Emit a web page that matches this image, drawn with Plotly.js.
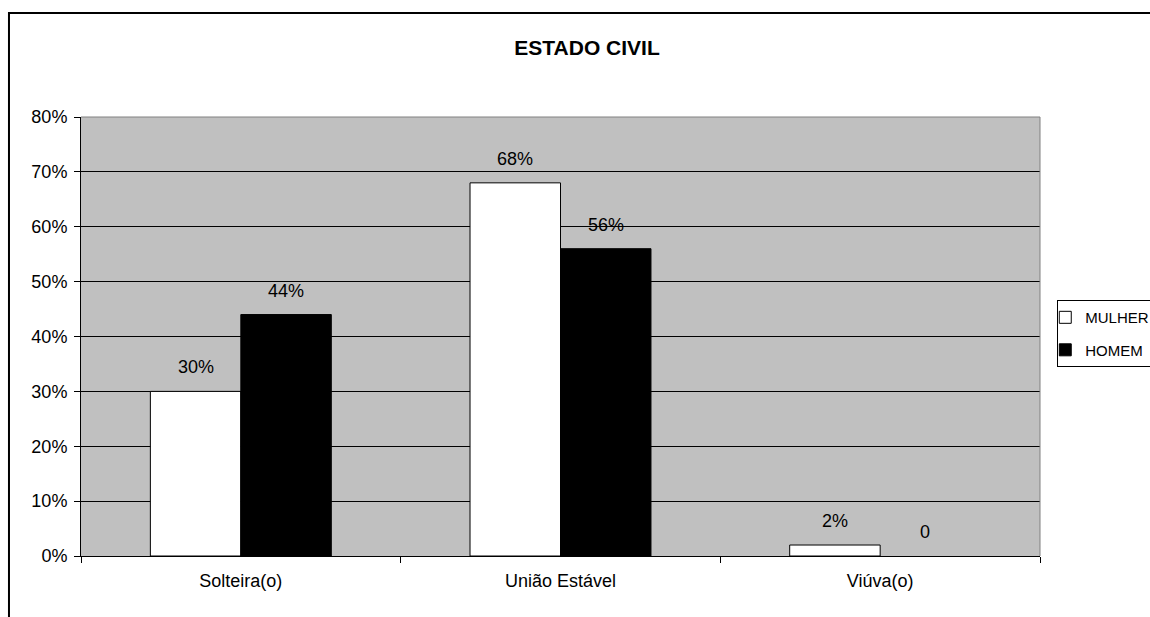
<!DOCTYPE html>
<html>
<head>
<meta charset="utf-8">
<script src="https://cdn.plot.ly/plotly-3.0.1.min.js"></script>
<style>html,body{margin:0;padding:0;background:#fff;}#chart{width:1150px;height:617px;}</style>
</head>
<body>
<div id="chart"></div>
<script>
var categories = ["Solteira(o)", "União Estável", "Viúva(o)"];
var mulherValues = [0.30, 0.68, 0.02];
var homemValues = [0.44, 0.56, 0];
var mulherLabels = ["30%", "68%", "2%"];
var homemLabels = ["44%", "56%", "0"];
var yTickVals = [0, 0.1, 0.2, 0.3, 0.4, 0.5, 0.6, 0.7, 0.8];

var font = "Liberation Sans, Arial, sans-serif";

function outlineWidths(vals) { return vals.map(function (v) { return v > 0 ? 1 : 0; }); }

var traces = [
  {type: "bar", name: "MULHER", x: categories, y: mulherValues, legendgroup: "m",
   marker: {color: "#ffffff", line: {color: "#000000", width: outlineWidths(mulherValues)}}, hoverinfo: "none"},
  {type: "bar", name: "HOMEM", x: categories, y: homemValues, legendgroup: "h",
   marker: {color: "#000000", line: {color: "#000000", width: outlineWidths(homemValues)}}, hoverinfo: "none"}
];

var annotations = [];
function addLabels(vals, labels, offset) {
  for (var i = 0; i < categories.length; i++) {
    annotations.push({
      x: i + offset, xref: "x", y: vals[i], yref: "y",
      text: labels[i], showarrow: false, yanchor: "middle", yshift: 24,
      font: {family: font, size: 18, color: "#000"}
    });
  }
}
addLabels(mulherValues, mulherLabels, -0.1414);
addLabels(homemValues, homemLabels, 0.1414);

var layout = {
  width: 1150, height: 617,
  margin: {l: 81, r: 110, t: 117, b: 61, autoexpand: false},
  paper_bgcolor: "#ffffff",
  plot_bgcolor: "#c0c0c0",
  barmode: "group",
  bargap: 0.434,
  bargroupgap: 0,
  title: {text: "<b>ESTADO CIVIL</b>", x: 0.5277, xref: "paper", xanchor: "center", y: 0.922, yanchor: "middle",
          font: {family: font, size: 21, color: "#000"}},
  xaxis: {
    type: "category", tickson: "boundaries", ticks: "outside", ticklen: 6, tickcolor: "#000",
    showline: true, linecolor: "#000", linewidth: 1, showgrid: false,
    tickfont: {family: font, size: 18, color: "#000"}, range: [-0.5, 2.5],
    ticklabelstandoff: 8, fixedrange: true
  },
  yaxis: {
    range: [0, 0.8], tickvals: yTickVals, tickformat: ".0%",
    ticks: "outside", ticklen: 6, tickcolor: "#000",
    showline: true, linecolor: "#000", linewidth: 1,
    showgrid: true, gridcolor: "#000", gridwidth: 1, zeroline: false,
    tickfont: {family: font, size: 18, color: "#000"}, ticklabelstandoff: 3, fixedrange: true
  },
  legend: {
    x: 1.018, xanchor: "left", y: 0.583, yanchor: "top",
    bordercolor: "#000", borderwidth: 1, bgcolor: "#fff",
    font: {family: font, size: 15, color: "#000"},
    itemwidth: 30, traceorder: "grouped", tracegroupgap: 10, indentation: -13
  },
  showlegend: true,
  annotations: annotations,
  shapes: [
    {type: "line", xref: "paper", yref: "paper", x0: 0, x1: 1, y0: 1, y1: 1, line: {color: "#808080", width: 1}, layer: "above"},
    {type: "line", xref: "paper", yref: "paper", x0: 1, x1: 1, y0: 0, y1: 1, line: {color: "#808080", width: 1}, layer: "above"},
    {type: "rect", xref: "paper", yref: "paper", x0: -0.0751, x1: 1.3, y0: -0.3, y1: 1.2369, line: {color: "#000", width: 2}, layer: "above"}
  ]
};

Plotly.newPlot("chart", traces, layout, {displayModeBar: false, staticPlot: true});
</script>
</body>
</html>
